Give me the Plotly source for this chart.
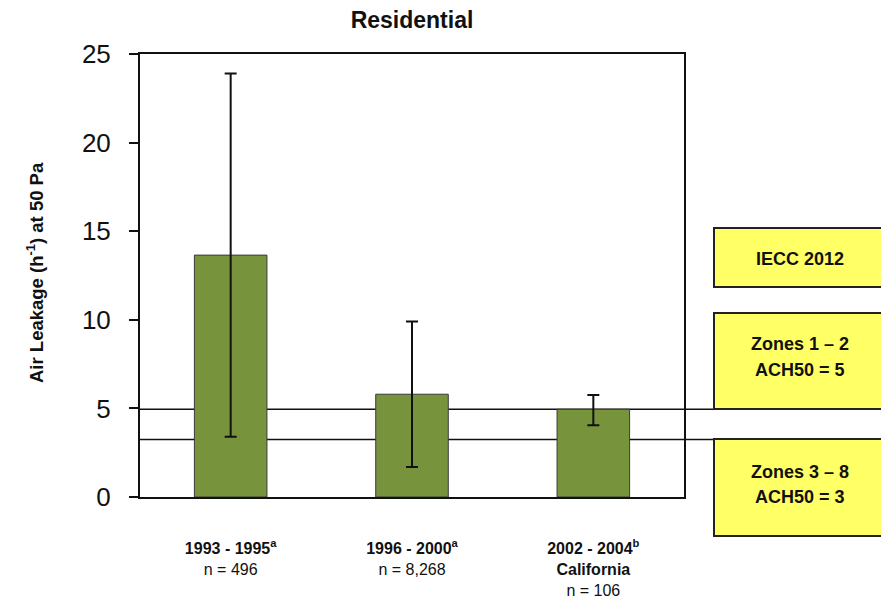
import plotly.graph_objects as go

categories = ["1993 - 1995", "1996 - 2000", "2002 - 2004"]
cat_labels = [
    "<b>1993 - 1995<sup>a</sup></b><br>n = 496",
    "<b>1996 - 2000<sup>a</sup></b><br>n = 8,268",
    "<b>2002 - 2004<sup>b</sup></b><br><b>California</b><br>n = 106",
]
means = [13.65, 5.8, 4.95]
err_upper = [23.9, 9.9, 5.75]
err_lower = [3.4, 1.7, 4.05]
thresholds = [4.95, 3.25]
box_lines = [["IECC 2012"], ["Zones 1 – 2", "ACH50 = 5"], ["Zones 3 – 8", "ACH50 = 3"]]

FONT = "Liberation Sans Narrow, Arial Narrow, Liberation Sans, Arial, sans-serif"

W, H = 881, 603

x_idx = list(range(len(categories)))
fig = go.Figure()
fig.add_trace(go.Bar(
    x=x_idx, y=means, width=0.4,
    marker=dict(color="#77933C", line=dict(color="#3a3a3a", width=1)),
    error_y=dict(type="data", symmetric=False,
                 array=[u - m for u, m in zip(err_upper, means)],
                 arrayminus=[m - l for m, l in zip(means, err_lower)],
                 color="#111111", thickness=2, width=6),
    showlegend=False,
))

for t in thresholds:
    fig.add_shape(type="line", xref="paper", yref="y", x0=0, x1=1.191, y0=t, y1=t,
                  line=dict(color="#111111", width=1.5), layer="below")


def px_x(p):
    return (p - 140) / 544.0


def px_y(p):
    return (497 - p) / 443.0


boxes_px = [(228, 287), (313, 409), (439, 536)]
line_ys = [[259], [344, 370], [472, 497]]
for (top, bot), lines, ys in zip(boxes_px, box_lines, line_ys):
    fig.add_shape(type="rect", xref="paper", yref="paper",
                  x0=px_x(714), x1=px_x(900), y0=px_y(bot), y1=px_y(top),
                  fillcolor="#FFFF66", line=dict(color="#222222", width=2), layer="above")
    for txt, yy in zip(lines, ys):
        fig.add_annotation(xref="paper", yref="paper", x=px_x(800), y=px_y(yy),
                           xanchor="center", yanchor="middle",
                           text="<b>" + txt + "</b>", showarrow=False,
                           font=dict(family=FONT, size=18, color="#111111"))

fig.add_annotation(xref="paper", yref="paper", x=px_x(35), y=px_y(273),
                   xanchor="center", yanchor="middle",
                   text="<b>Air Leakage (h<sup>-1</sup>) at 50 Pa</b>", textangle=-90, showarrow=False,
                   font=dict(family=FONT, size=18.5, color="#111111"))

fig.update_layout(
    width=W, height=H,
    margin=dict(l=140, r=W - 684, t=54, b=H - 497, autoexpand=False),
    paper_bgcolor="white", plot_bgcolor="white",
    title=dict(text="<b>Residential</b>", x=412 / W, xanchor="center",
               y=1 - 20 / H, yanchor="middle",
               font=dict(family=FONT, size=23, color="#111111")),
    font=dict(family=FONT, color="#111111"),
)
fig.update_xaxes(range=[-0.5, 2.5], tickvals=x_idx, ticktext=cat_labels,
                 showline=True, linecolor="#111111", linewidth=2, mirror=True,
                 ticks="", tickfont=dict(family=FONT, size=16, color="#111111"),
                 showgrid=False, zeroline=False, ticklabelstandoff=36, automargin=False)
fig.update_yaxes(range=[0, 25], tickvals=[0, 5, 10, 15, 20, 25],
                 showline=True, linecolor="#111111", linewidth=2, mirror=True,
                 ticks="outside", ticklen=9, tickwidth=1.5, tickcolor="#111111",
                 tickfont=dict(family=FONT, size=26, color="#111111"),
                 showgrid=False, zeroline=False, ticklabelstandoff=13, automargin=False)

fig.write_html("out.html", config={"displayModeBar": False},
               post_script="document.body.style.margin='0px';document.body.style.overflow='hidden';")
